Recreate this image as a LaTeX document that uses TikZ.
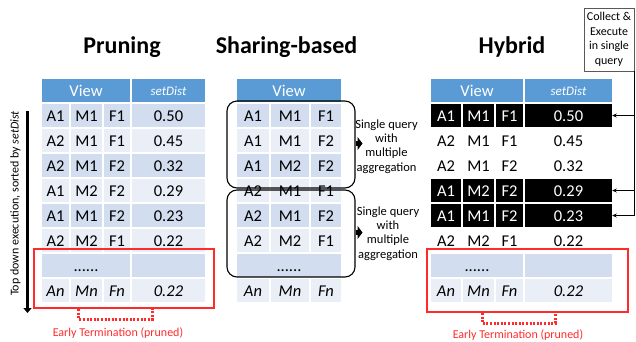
\documentclass[tikz,border=0pt]{standalone}
\usepackage{fontspec}
\setmainfont{Carlito}
\usetikzlibrary{arrows.meta}

\definecolor{hdrblue}{HTML}{5B9BD5}
\definecolor{banddark}{HTML}{D2DEEF}
\definecolor{bandlight}{HTML}{EAEFF7}
\definecolor{termred}{HTML}{FF2B2B}
\definecolor{boxgray}{HTML}{595959}

% column geometry of the table being drawn: centre and width of each column
\newcommand\setcols[8]{%
  \def\cxA{#1}\def\cwA{#2}\def\cxB{#3}\def\cwB{#4}%
  \def\cxC{#5}\def\cwC{#6}\def\cxD{#7}\def\cwD{#8}}
\newcommand\setspan[2]{\def\spanx{#1}\def\spanw{#2}}

% one row of four cells: name, y, fill, text colour, four texts
\newcommand\qrow[8]{%
  \node[cell,fill=#3,text=#4,minimum width=\cwA] (#1a) at (\cxA,#2) {#5};
  \node[cell,fill=#3,text=#4,minimum width=\cwB] (#1b) at (\cxB,#2) {#6};
  \node[cell,fill=#3,text=#4,minimum width=\cwC] (#1c) at (\cxC,#2) {#7};
  \node[cell,fill=#3,text=#4,minimum width=\cwD] (#1d) at (\cxD,#2) {#8};}
% one row of three cells
\newcommand\trow[7]{%
  \node[cell,fill=#3,text=#4,minimum width=\cwA] (#1a) at (\cxA,#2) {#5};
  \node[cell,fill=#3,text=#4,minimum width=\cwB] (#1b) at (\cxB,#2) {#6};
  \node[cell,fill=#3,text=#4,minimum width=\cwC] (#1c) at (\cxC,#2) {#7};}

\begin{document}
\begin{tikzpicture}[x=1pt,y=-1pt,
  cell/.style={inner sep=0pt,minimum height=23pt,text height=11pt,text depth=0pt,
    font=\fontsize{16.5}{19}\selectfont},
  hdrsd/.style={cell,fill=hdrblue,text=white,text height=9pt,
    font=\itshape\fontsize{13}{15}\selectfont},
  title/.style={anchor=base,inner sep=0pt,font=\bfseries\fontsize{24}{28}\selectfont},
  note/.style={align=center,inner sep=0pt,font=\fontsize{12.5}{14.3}\selectfont},
  cutbox/.style={draw=termred,line width=1.3pt,inner sep=0pt},
  bracket/.style={draw=termred,line width=3pt,dash pattern=on 2pt off 1.6pt},
  termtext/.style={inner sep=0pt,text=termred,font=\fontsize{12}{14}\selectfont},
  groupbox/.style={draw,line width=1.1pt,rounded corners=10pt,inner sep=0pt},
  fatarrow/.style={line width=5pt,-{Triangle[length=5pt,width=13pt]}},
  conn/.style={line width=0.9pt,-{Stealth[length=4.5pt,width=4pt]}}]

\useasboundingbox (0,0) rectangle (636,341);

% ---------------- titles ----------------
\node[title] (tprune) at (122,53) {Pruning};
\node[title] (tshare) at (286.5,53) {Sharing-based};
\node[title] (thybrid) at (512,53) {Hybrid};

% ---------------- pruning table ----------------
\setcols{55.5}{27}{86.5}{31}{117}{26}{168.5}{73}
\setspan{86}{88}
\node[cell,fill=hdrblue,text=white,minimum width=\spanw] (phv) at (\spanx,90.5) {View};
\node[hdrsd,minimum width=\cwD] (phs) at (\cxD,90.5) {setDist};
\qrow{p1}{115.5}{banddark}{black}{A1}{M1}{F1}{0.50}
\qrow{p2}{140.5}{bandlight}{black}{A2}{M1}{F1}{0.45}
\qrow{p3}{165.5}{banddark}{black}{A2}{M1}{F2}{0.32}
\qrow{p4}{190.5}{bandlight}{black}{A1}{M2}{F2}{0.29}
\qrow{p5}{215.5}{banddark}{black}{A1}{M1}{F2}{0.23}
\qrow{p6}{240.5}{bandlight}{black}{A2}{M2}{F1}{0.22}
\node[cell,fill=banddark,minimum width=\spanw] (p7a) at (\spanx,265.5) {......};
\node[cell,fill=banddark,minimum width=\cwD] (p7d) at (\cxD,265.5) {};
\qrow{p8}{290.5}{bandlight}{black}{\textit{An}}{\textit{Mn}}{\textit{Fn}}{\textit{0.22}}

% execution order arrow
\coordinate (ltop) at (27.5,111);
\coordinate (lbot) at (27.5,313);
\draw[line width=3pt,-{Triangle[length=5pt,width=8pt]}] (ltop) -- (lbot);
\node[rotate=90,inner sep=0pt,font=\fontsize{12}{14}\selectfont] (ldesc) at (15.5,203.5)
  {Top down execution, sorted by \textit{setDist}};

% pruned part
\node[cutbox,minimum width=180pt,minimum height=59pt] (pcut) at (124,278.5) {};
\coordinate (pbl) at (78.5,309);
\coordinate (pbr) at (152.5,309);
\draw[bracket] (pbl) -- ++(0,10) -| (pbr);
\node[termtext] (pnote) at (118,333.5) {Early Termination (pruned)};

% ---------------- sharing-based table ----------------
\setcols{253}{32}{290}{38}{326}{30}{0}{0}
\setspan{289}{104}
\node[cell,fill=hdrblue,text=white,minimum width=\spanw] (shv) at (\spanx,90.5) {View};
\trow{s1}{115.5}{banddark}{black}{A1}{M1}{F1}
\trow{s2}{140.5}{bandlight}{black}{A1}{M1}{F2}
\trow{s3}{165.5}{banddark}{black}{A1}{M2}{F2}
\trow{s4}{190.5}{bandlight}{black}{A2}{M1}{F1}
\trow{s5}{215.5}{banddark}{black}{A2}{M1}{F2}
\trow{s6}{240.5}{bandlight}{black}{A2}{M2}{F1}
\node[cell,fill=banddark,minimum width=\spanw] (s7a) at (\spanx,265.5) {......};
\trow{s8}{290.5}{bandlight}{black}{\textit{An}}{\textit{Mn}}{\textit{Fn}}

% query groups
\node[groupbox,minimum width=128pt,minimum height=87pt] (share1) at (291,144.5) {};
\node[groupbox,minimum width=128pt,minimum height=87pt] (share2) at (291,233.5) {};
\node[note] (lab1) at (386.5,146.5) {Single query\\with\\multiple\\aggregation};
\node[note] (lab2) at (388,233.5) {Single query\\with\\multiple\\aggregation};
\coordinate (tip1) at (362.5,143.5);
\coordinate (tip2) at (362.5,232.5);
\draw[fatarrow] (share1.east |- tip1) -- (tip1);
\draw[fatarrow] (share2.east |- tip2) -- (tip2);

% ---------------- hybrid table ----------------
\setcols{446}{30}{478.5}{31}{509.5}{27}{568.5}{87}
\setspan{477}{92}
\node[cell,fill=hdrblue,text=white,minimum width=\spanw] (hhv) at (\spanx,90.5) {View};
\node[hdrsd,minimum width=\cwD] (hhs) at (\cxD,90.5) {setDist};
\qrow{h1}{115.5}{black}{white}{A1}{M1}{F1}{0.50}
\qrow{h2}{140.5}{white}{black}{A2}{M1}{F1}{0.45}
\qrow{h3}{165.5}{white}{black}{A2}{M1}{F2}{0.32}
\qrow{h4}{190.5}{black}{white}{A1}{M2}{F2}{0.29}
\qrow{h5}{215.5}{black}{white}{A1}{M1}{F2}{0.23}
\qrow{h6}{240.5}{white}{black}{A2}{M2}{F1}{0.22}
\node[cell,fill=banddark,minimum width=\spanw] (h7a) at (\spanx,265.5) {......};
\node[cell,fill=banddark,minimum width=\cwD] (h7d) at (\cxD,265.5) {};
\qrow{h8}{290.5}{bandlight}{black}{\textit{An}}{\textit{Mn}}{\textit{Fn}}{\textit{0.22}}

% pruned part
\node[cutbox,minimum width=201pt,minimum height=63pt] (hcut) at (527.5,280.5) {};
\coordinate (hbl) at (482,313);
\coordinate (hbr) at (555,313);
\draw[bracket] (hbl) -- ++(0,10) -| (hbr);
\node[termtext] (hnote) at (518,335.5) {Early Termination (pruned)};

% collected single query
\node[draw=boxgray,line width=0.9pt,minimum width=50pt,minimum height=63pt,inner sep=0pt,
  align=center,font=\fontsize{12}{14.5}\selectfont] (collect) at (609,39.5)
  {Collect \&\\Execute\\in single\\query};
\draw[conn] (collect.south east) |- (h1d.east);
\draw[conn] (collect.south east) |- (h4d.east);
\draw[conn] (collect.south east) |- (h5d.east);

\end{tikzpicture}
\end{document}
